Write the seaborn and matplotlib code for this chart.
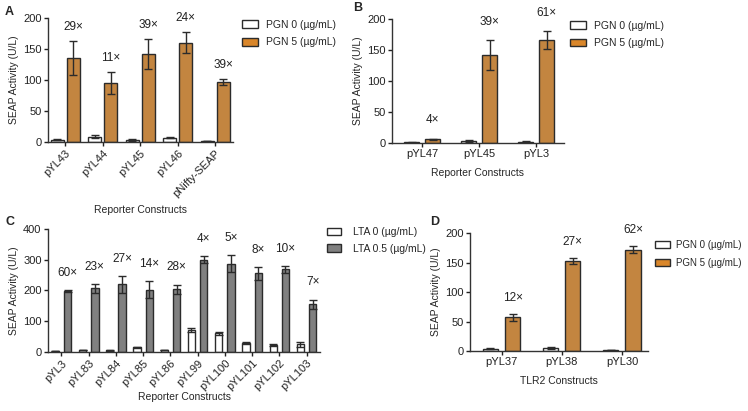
import numpy as np
import pandas as pd
import matplotlib
matplotlib.use("Agg")
import matplotlib.pyplot as plt
from matplotlib.patches import Patch
import seaborn as sns

# ---------- data ----------
# Panel A
a_constructs = ["pYL43", "pYL44", "pYL45", "pYL46", "pNifty-SEAP"]
a_ctrl = [4, 9, 3, 7, 2]
a_ctrl_err = [0.8, 2, 1.5, 1, 0.5]
a_stim = [136, 95, 142, 160, 97]
a_stim_err = [27, 18, 24, 17, 5]
a_fold = ["29×", "11×", "39×", "24×", "39×"]

# Panel B
b_constructs = ["pYL47", "pYL45", "pYL3"]
b_ctrl = [1, 3, 2]
b_ctrl_err = [0.3, 1.5, 0.5]
b_stim = [6, 142, 166]
b_stim_err = [0.6, 24, 14]
b_fold = ["4×", "39×", "61×"]

# Panel C
c_constructs = ["pYL3", "pYL83", "pYL84", "pYL85", "pYL86",
                "pYL99", "pYL100", "pYL101", "pYL102", "pYL103"]
c_ctrl = [3, 6, 5, 15, 5, 72, 60, 28, 22, 25]
c_ctrl_err = [0.5, 1, 1, 2, 0.5, 6, 5, 3, 2, 8]
c_stim = [198, 207, 220, 202, 203, 300, 287, 255, 268, 155]
c_stim_err = [2, 14, 27, 27, 16, 12, 28, 22, 12, 15]
c_fold = ["60×", "23×", "27×", "14×", "28×", "4×", "5×", "8×", "10×", "7×"]

# Panel D
d_constructs = ["pYL37", "pYL38", "pYL30"]
d_ctrl = [4, 5, 2]
d_ctrl_err = [0.5, 1.5, 0.5]
d_stim = [57, 153, 172]
d_stim_err = [6, 5, 6]
d_fold = ["12×", "27×", "62×"]

pgn_levels = ["PGN 0 (µg/mL)", "PGN 5 (µg/mL)"]
lta_levels = ["LTA 0 (µg/mL)", "LTA 0.5 (µg/mL)"]

ORANGE = "#D9862A"
GREY = "#808080"
EDGE = "#2b2b2b"

sns.set_theme(style="ticks")
plt.rcParams["font.family"] = ["Liberation Sans", "DejaVu Sans"]
plt.rcParams["axes.linewidth"] = 1.0
plt.rcParams["xtick.major.size"] = 3
plt.rcParams["ytick.major.size"] = 3
plt.rcParams["xtick.major.width"] = 1.0
plt.rcParams["ytick.major.width"] = 1.0
plt.rcParams["xtick.major.pad"] = 1.5
plt.rcParams["ytick.major.pad"] = 1.5


def to_long(constructs, ctrl, stim, levels):
    return pd.DataFrame({
        "construct": list(constructs) * 2,
        "value": list(ctrl) + list(stim),
        "treat": [levels[0]] * len(constructs) + [levels[1]] * len(constructs),
    })


def grouped_panel(ax, constructs, ctrl, ctrl_err, stim, stim_err, fold, levels,
                  color, ymax, width, gap, label_off, rot=0):
    df = to_long(constructs, ctrl, stim, levels)
    sns.barplot(data=df, x="construct", y="value", hue="treat",
                hue_order=levels, palette=["white", color], errorbar=None,
                width=width, gap=gap, edgecolor=EDGE, linewidth=1.0,
                legend=False, ax=ax)
    for cont, errs in zip(ax.containers, [ctrl_err, stim_err]):
        for bar, e in zip(cont, errs):
            cx = bar.get_x() + bar.get_width() / 2
            ax.errorbar(cx, bar.get_height(), yerr=e, fmt="none",
                        ecolor=EDGE, elinewidth=1.0, capsize=3, capthick=1.0)
    for bar, e, txt in zip(ax.containers[1], stim_err, fold):
        cx = bar.get_x() + bar.get_width() / 2
        ax.annotate(txt, (cx, bar.get_height() + e), xytext=(0, label_off),
                    textcoords="offset points", ha="center", va="bottom",
                    fontsize=8.5, color="#222222")
    ax.set_ylim(0, ymax)
    ax.set_ylabel("SEAP Activity (U/L)", fontsize=7.5, labelpad=3)
    ax.tick_params(axis="both", labelsize=8, colors="#222222", direction="out")
    if rot:
        ax.set_xticks(range(len(constructs)))
        ax.set_xticklabels(constructs, rotation=rot, ha="right",
                           rotation_mode="anchor")
    sns.despine(ax=ax)
    for s in ("left", "bottom"):
        ax.spines[s].set_color("#333333")


def add_legend(ax, levels, color, anchor, hl=1.55, pad=0.8, sp=0.72, fs=7.5):
    handles = [Patch(facecolor="white", edgecolor=EDGE, linewidth=1.0),
               Patch(facecolor=color, edgecolor=EDGE, linewidth=1.0)]
    ax.legend(handles, levels, loc="upper left", bbox_to_anchor=anchor,
              frameon=False, fontsize=fs, handlelength=hl, handleheight=0.75,
              labelspacing=sp, handletextpad=pad, borderaxespad=0,
              borderpad=0)


fig = plt.figure(figsize=(7.48, 4.11), dpi=100)
ax_a = fig.add_axes([0.064, 0.654, 0.247, 0.302])
ax_b = fig.add_axes([0.524, 0.652, 0.230, 0.302])
ax_c = fig.add_axes([0.064, 0.144, 0.364, 0.299])
ax_d = fig.add_axes([0.628, 0.146, 0.238, 0.287])

# A
grouped_panel(ax_a, a_constructs, a_ctrl, a_ctrl_err, a_stim, a_stim_err,
              a_fold, pgn_levels, ORANGE, 200, 0.85, 0.18, 6, rot=45)
ax_a.set_yticks([0, 50, 100, 150, 200])
ax_a.set_xlim(-0.46, 4.46)
ax_a.set_xlabel("Reporter Constructs", fontsize=7.5, labelpad=4)
add_legend(ax_a, pgn_levels, ORANGE, (1.049, 0.985))

# B
grouped_panel(ax_b, b_constructs, b_ctrl, b_ctrl_err, b_stim, b_stim_err,
              b_fold, pgn_levels, ORANGE, 200, 0.74, 0.3, 9)
ax_b.set_yticks([0, 50, 100, 150, 200])
ax_b.set_xlim(-0.53, 2.49)
ax_b.set_xlabel("Reporter Constructs", fontsize=7.5, labelpad=6)
add_legend(ax_b, pgn_levels, ORANGE, (1.035, 0.985))

# C
grouped_panel(ax_c, c_constructs, c_ctrl, c_ctrl_err, c_stim, c_stim_err,
              c_fold, lta_levels, GREY, 400, 0.9, 0.4, 8, rot=45)
ax_c.set_yticks([0, 100, 200, 300, 400])
ax_c.set_xlim(-0.5, 9.5)
ax_c.set_xlabel("Reporter Constructs", fontsize=7.5, labelpad=0)
add_legend(ax_c, lta_levels, GREY, (1.026, 1.015), hl=1.35, pad=1.15,
           sp=0.62)

# D
grouped_panel(ax_d, d_constructs, d_ctrl, d_ctrl_err, d_stim, d_stim_err,
              d_fold, pgn_levels, ORANGE, 200, 0.74, 0.32, 7)
ax_d.set_yticks([0, 50, 100, 150, 200])
ax_d.set_xlim(-0.53, 2.43)
ax_d.set_xlabel("TLR2 Constructs", fontsize=7.5, labelpad=6)
add_legend(ax_d, pgn_levels, ORANGE, (1.04, 0.94), hl=1.6, pad=0.6,
           sp=0.8, fs=7.0)

for lbl, (x, y) in zip("ABCD", [(5, 12), (353, 8), (5, 222), (430, 222)]):
    fig.text(x / 748, 1 - y / 411, lbl, fontsize=9, fontweight="bold",
             ha="left", va="center")

fig.savefig("out.png", dpi=100)
